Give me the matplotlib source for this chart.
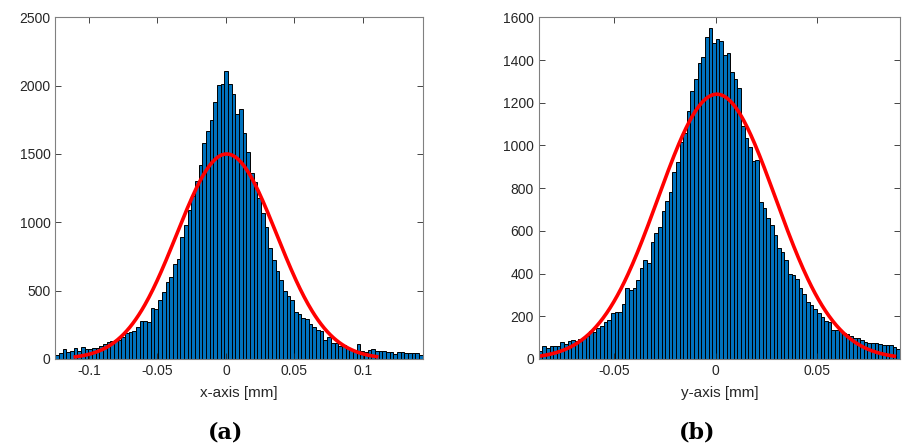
import numpy as np
import matplotlib.pyplot as plt

plt.rcParams['font.family'] = ['Liberation Sans', 'DejaVu Sans']

# ---------------- data ----------------
# (a) x-axis deviation histogram, 100 bins over the axis range
x_range = (-0.1246, 0.1436)
x_counts = [29, 46, 71, 54, 58, 83, 61, 90, 76, 71, 78, 83, 98, 107, 122, 132,
            139, 137, 159, 188, 195, 205, 232, 278,
            278, 268, 376, 366, 432, 493, 560, 600, 695, 729, 893, 980, 1090,
            1195, 1303, 1420, 1583, 1670, 1749, 1882, 2005, 2012, 2107, 2012,
            1939, 1790,
            1827, 1651, 1517, 1359, 1297, 1180, 1066, 968, 810, 724, 646, 578,
            498, 463, 432, 346, 329, 298, 293, 254, 236, 212, 205, 139, 159, 117,
            115, 95, 102, 78, 71, 61, 110, 61, 54, 66, 71, 59, 61, 59, 49, 49,
            34, 49, 49, 46, 46, 42, 42, 29]
x_fit = dict(mu=0.0005, sigma=0.0366, peak=1500, lo=-0.11, hi=0.11)

# (b) y-axis deviation histogram
y_range = (-0.0873, 0.0908)
y_counts = [39, 59, 53, 59, 62, 59, 78, 70, 86, 89, 86, 95, 97, 106, 133, 128,
            145, 156, 172, 184, 215, 222, 222, 258,
            333, 325, 331,
            370, 426, 464, 448, 549, 588, 620, 695, 741, 780, 874, 921, 1018,
            1058, 1160, 1257, 1311, 1386, 1416, 1506, 1550,
            1481, 1497, 1491, 1424, 1431, 1346, 1311, 1268, 1091, 1033, 994, 927,
            932, 737, 706, 659, 628, 581, 518, 499, 464, 398, 393, 373, 331,
            305, 265, 254, 234, 214, 197, 179, 172, 138, 137, 134, 120, 115, 107,
            99, 99, 90, 81, 76, 75, 76, 68, 66, 64, 65, 58, 49]
y_fit = dict(mu=0.0005, sigma=0.029, peak=1240, lo=-0.0865, hi=0.088)

bar_col = '#0072BD'
grey = '#262626'


def draw(ax, rng, counts, fit, xticks, ylim, ystep, xlabel):
    n = len(counts)
    edges = np.linspace(rng[0], rng[1], n + 1)
    ax.bar(edges[:-1], counts, width=np.diff(edges), align='edge',
           color=bar_col, edgecolor='black', linewidth=0.7)
    xs = np.linspace(fit['lo'], fit['hi'], 300)
    ax.plot(xs, fit['peak'] * np.exp(-(xs - fit['mu']) ** 2 / (2 * fit['sigma'] ** 2)),
            color='#FF0000', lw=2.6)
    ax.set_xlim(*rng)
    ax.set_ylim(*ylim)
    ax.set_xticks(xticks)
    ax.set_xticklabels([('%g' % t) for t in xticks])
    ax.set_yticks(np.arange(0, ylim[1] + 1, ystep))
    ax.tick_params(direction='in', top=True, right=True, length=4,
                   labelsize=10, colors=grey, width=0.6)
    for s in ax.spines.values():
        s.set_color('#808080')
        s.set_linewidth(0.8)
    ax.set_xlabel(xlabel, fontsize=11, color=grey, labelpad=6)


fig = plt.figure(figsize=(9.02, 4.45), dpi=100)
ax1 = fig.add_axes([0.0613, 0.1933, 0.4073, 0.7678])
ax2 = fig.add_axes([0.5972, 0.1933, 0.4006, 0.7678])

draw(ax1, x_range, x_counts, x_fit, [-0.1, -0.05, 0, 0.05, 0.1], (0, 2500), 500, 'x-axis [mm]')
draw(ax2, y_range, y_counts, y_fit, [-0.05, 0, 0.05], (0, 1600), 200, 'y-axis [mm]')

fig.text(226 / 902, 1 - 432 / 445, '(a)', ha='center', va='center',
         fontsize=16, fontweight='bold', family='DejaVu Serif')
fig.text(697 / 902, 1 - 432 / 445, '(b)', ha='center', va='center',
         fontsize=16, fontweight='bold', family='DejaVu Serif')

fig.savefig('out.png', dpi=100)
